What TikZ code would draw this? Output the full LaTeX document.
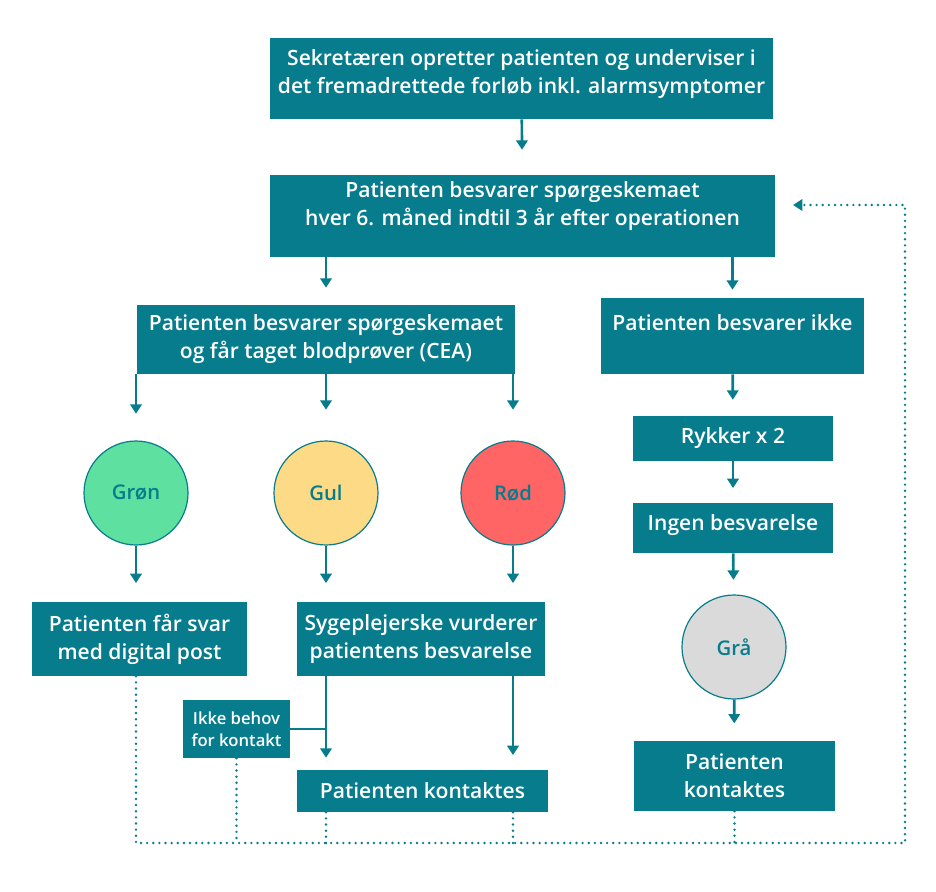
\documentclass[tikz,border=0pt]{standalone}
\usepackage{fontspec}
\IfFontExistsTF{Open Sans Semibold}
  {\setmainfont{Open Sans Semibold}}
  {\setmainfont{Open Sans}[FakeBold=1.6]}
\usetikzlibrary{arrows.meta,positioning,calc}

\definecolor{petrol}{HTML}{067C8C}
\definecolor{groen}{HTML}{5EE0A0}
\definecolor{gul}{HTML}{FDDA86}
\definecolor{roed}{HTML}{FF6565}
\definecolor{graa}{HTML}{DADADA}

\tikzset{
  box/.style={fill=petrol, text=white, align=center, inner sep=2pt,
    font=\fontsize{15.8}{21}\selectfont},
  light/.style={circle, draw=petrol, line width=0.9pt, minimum size=78pt,
    text=petrol, font=\fontsize{15.2}{18}\selectfont},
  arr/.style={petrol, line width=2pt, -{Triangle[width=8.5pt,length=7pt]}},
  dots/.style={petrol, line width=2pt, line cap=round, dash pattern=on 0pt off 4.6pt}
}

\begin{document}
\begin{tikzpicture}[x=0.75pt, y=-0.75pt]
  \useasboundingbox (0,0) rectangle (936,892);

  % boxes
  \node[box, minimum width=377.25pt, minimum height=60.75pt, text depth=11pt] (opret) at (521.5,78.5)
    {Sekretæren opretter patienten og underviser i\\det fremadrettede forløb inkl. alarmsymptomer};
  \node[box, minimum width=378.75pt, minimum height=61.5pt, text depth=19pt] (besvar) at (522.5,216)
    {Patienten besvarer spørgeskemaet\\hver 6. måned indtil 3 år efter operationen};
  \node[box, minimum width=283.5pt, minimum height=51.75pt] (blod) at (326,339.5)
    {Patienten besvarer spørgeskemaet\\og får taget blodprøver (CEA)};
  \node[box, minimum width=197.25pt, minimum height=57pt, text depth=20pt] (ikke) at (732.5,336)
    {Patienten besvarer ikke};
  \node[box, minimum width=150pt, minimum height=33.75pt] (rykker) at (733,438.5) {Rykker x 2};
  \node[box, minimum width=150pt, minimum height=37.5pt, text depth=9pt] (ingen) at (733,528) {Ingen besvarelse};

  % traffic lights
  \node[light, fill=groen] (gron) at (136,493) {Grøn};
  \node[light, fill=gul] (gul) at (326,493) {Gul};
  \node[light, fill=roed] (rod) at (513,493) {Rød};
  \node[light, fill=graa] (gra) at (734,647) {Grå};

  \node[box, minimum width=161.25pt, minimum height=55.5pt] (digital) at (139.5,639)
    {Patienten får svar\\med digital post};
  \node[box, minimum width=186pt, minimum height=55.5pt] (vurder) at (421,639)
    {Sygeplejerske vurderer\\patientens besvarelse};
  \node[box, minimum width=80.25pt, minimum height=43.5pt, font=\fontsize{12.5}{16.5}\selectfont] (behov) at (236.5,729)
    {Ikke behov\\for kontakt};
  \node[box, minimum width=188.25pt, minimum height=31.5pt] (kontakt) at (422.5,791) {Patienten kontaktes};
  \node[box, minimum width=150.75pt, minimum height=52.5pt] (kontaktgra) at (734.5,776)
    {Patienten\\kontaktes};

  % arrows
  \draw[arr, shorten >=18.75pt] (opret) -- (besvar);
  \draw[arr, shorten >=12.75pt] (besvar.south -| blod) -- (blod);
  \draw[arr, shorten >=6pt] (besvar.south -| ikke) -- (ikke);
  \draw[arr, shorten >=20pt] (blod.south -| gron) -- (gron);
  \draw[arr, shorten >=23pt] (blod.south -| gul) -- (gul);
  \draw[arr, shorten >=23pt] (blod.south -| rod) -- (rod);
  \draw[arr, shorten >=12pt] (ikke) -- (rykker);
  \draw[arr, shorten >=11pt] (rykker) -- (ingen);
  \draw[arr, shorten >=11pt] (ingen) -- (gra);
  \draw[arr, shorten >=14pt] (gron) -- (gron |- digital.north);
  \draw[arr, shorten >=14pt] (gul) -- (gul |- vurder.north);
  \draw[arr, shorten >=14pt] (rod) -- (rod |- vurder.north);
  \draw[arr, shorten >=13pt] (gra) -- (kontaktgra);
  \draw[arr, shorten >=9pt] (vurder.south -| gul) -- (kontakt.north -| gul);
  \draw[arr, shorten >=11pt] (vurder.south -| rod) -- (kontakt.north -| rod);
  \draw[petrol, line width=2pt] (behov.east) -- (behov.east -| gul);

  % dotted return line
  \coordinate (hoek) at (905,843);
  \coordinate (retur) at (793,205);
  \draw[dots, -{Triangle[width=8.5pt,length=7pt]}] (gron |- digital.south) |- (hoek) |- (retur);
  \draw[dots] (behov) -- (behov |- hoek);
  \draw[dots] (kontakt.south -| gul) -- (gul |- hoek);
  \draw[dots] (kontakt.south -| rod) -- (rod |- hoek);
  \draw[dots] (kontaktgra) -- (kontaktgra |- hoek);
\end{tikzpicture}
\end{document}
